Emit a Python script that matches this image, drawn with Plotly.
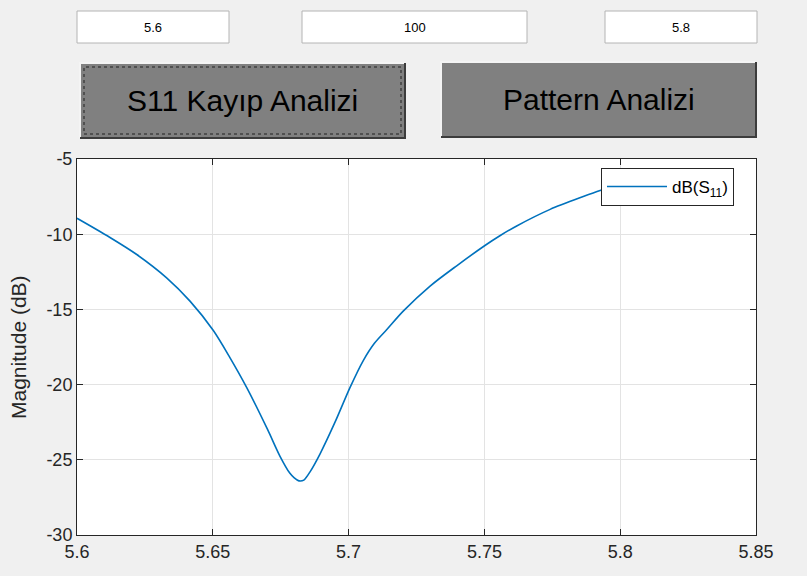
import plotly.graph_objects as go

# S11 sweep (GHz, dB)
freq = [5.600, 5.612, 5.622, 5.633, 5.6416, 5.6502, 5.6563, 5.6625, 5.6702, 5.6747,
        5.6784, 5.680, 5.6817, 5.6835, 5.6858, 5.6895, 5.6950, 5.7005, 5.7054, 5.7095,
        5.7140, 5.7202, 5.7300, 5.7398, 5.7502, 5.7557, 5.7619, 5.7742, 5.7864, 5.7926,
        5.800]
s11_db = [-8.94, -10.2, -11.35, -12.9, -14.45, -16.4, -18.2, -20.2, -23.0, -24.75,
          -25.9, -26.2, -26.4, -26.35, -25.8, -24.6, -22.5, -20.2, -18.4, -17.25,
          -16.35, -15.1, -13.45, -12.1, -10.75, -10.1, -9.45, -8.35, -7.5, -7.1,
          -6.7]

x_ticks = [5.6, 5.65, 5.7, 5.75, 5.8, 5.85]
y_ticks = [-30, -25, -20, -15, -10, -5]

box_values = ["5.6", "100", "5.8"]
button_labels = ["S11 Kayıp Analizi", "Pattern Analizi"]

W, H = 807, 576
L, R, T, B = 77, 51, 159, 41
pw, ph = W - L - R, H - T - B


def px(x):
    return (x - L) / pw


def py(y):
    return (H - B - y) / ph


fig = go.Figure()
fig.add_trace(go.Scatter(x=freq, y=s11_db, mode="lines", name="dB(S<sub>11</sub>)",
                         line=dict(color="#0072BD", width=1.6, shape="spline", smoothing=0.8)))

shapes = []
annotations = []

# input boxes
boxes = [(77, 229), (302, 527), (605, 757)]
for (x0, x1), val in zip(boxes, box_values):
    shapes.append(dict(type="rect", xref="paper", yref="paper", x0=px(x0), x1=px(x1),
                       y0=py(43), y1=py(11), fillcolor="white",
                       line=dict(color="#b4b4b4", width=1), layer="above"))
    annotations.append(dict(x=px((x0 + x1) / 2), y=py(27), xref="paper", yref="paper",
                            xanchor="center", yanchor="middle",
                            text=val, showarrow=False, font=dict(size=13, color="black")))

# buttons
buttons = [(80, 405, 63, 138), (441, 756, 62, 137)]
for (x0, x1, y0, y1), lab in zip(buttons, button_labels):
    shapes.append(dict(type="rect", xref="paper", yref="paper", x0=px(x0), x1=px(x1),
                       y0=py(y1), y1=py(y0), fillcolor="#808080",
                       line=dict(width=0), layer="above"))
    shapes.append(dict(type="path", xref="paper", yref="paper", layer="above",
                       path=f"M {px(x0)} {py(y1)} L {px(x0)} {py(y0)} L {px(x1)} {py(y0)}",
                       line=dict(color="#f4f4f4", width=2)))
    shapes.append(dict(type="path", xref="paper", yref="paper", layer="above",
                       path=f"M {px(x0)} {py(y1)} L {px(x1)} {py(y1)} L {px(x1)} {py(y0)}",
                       line=dict(color="#3c3c3c", width=2)))
    annotations.append(dict(x=px((x0 + x1) / 2), y=py((y0 + y1) / 2), xref="paper", yref="paper",
                            xanchor="center", yanchor="middle",
                            text=lab, showarrow=False,
                            font=dict(size=30, color="black", family="Liberation Sans")))

# focus rectangle on first button
shapes.append(dict(type="rect", xref="paper", yref="paper", x0=px(84), x1=px(401),
                   y0=py(134), y1=py(67), line=dict(color="#202020", width=1, dash="dot"),
                   layer="above"))

annotations.append(dict(x=px(18), y=py(347), xref="paper", yref="paper", text="Magnitude (dB)",
                        xanchor="center", yanchor="middle",
                        textangle=-90, showarrow=False, font=dict(size=21, color="#262626")))

fig.update_layout(
    width=W, height=H,
    margin=dict(l=L, r=R, t=T, b=B),
    paper_bgcolor="#f0f0f0", plot_bgcolor="white",
    font=dict(family="Liberation Sans, Arial, sans-serif", color="#262626"),
    shapes=shapes, annotations=annotations,
    showlegend=True,
    legend=dict(x=px(601), y=py(168), xanchor="left", yanchor="top",
                bgcolor="white", bordercolor="#262626", borderwidth=1,
                font=dict(size=17, color="black"), itemwidth=60),
)
fig.update_xaxes(range=[5.6, 5.85], tickvals=x_ticks, ticktext=[f"{v:g}" for v in x_ticks],
                 showgrid=True, gridcolor="#e3e3e3", zeroline=False,
                 showline=True, linecolor="#262626", linewidth=1, mirror="ticks",
                 ticks="inside", ticklen=6, tickcolor="#262626",
                 tickfont=dict(size=18, color="#262626"))
fig.update_yaxes(range=[-30, -5], tickvals=y_ticks, ticktext=[str(v) for v in y_ticks],
                 showgrid=True, gridcolor="#e3e3e3", zeroline=False,
                 showline=True, linecolor="#262626", linewidth=1, mirror="ticks",
                 ticks="inside", ticklen=6, tickcolor="#262626",
                 tickfont=dict(size=18, color="#262626"))

fig.write_html("out.html", config={"displayModeBar": False},
               post_script="document.body.style.margin = '0';")
